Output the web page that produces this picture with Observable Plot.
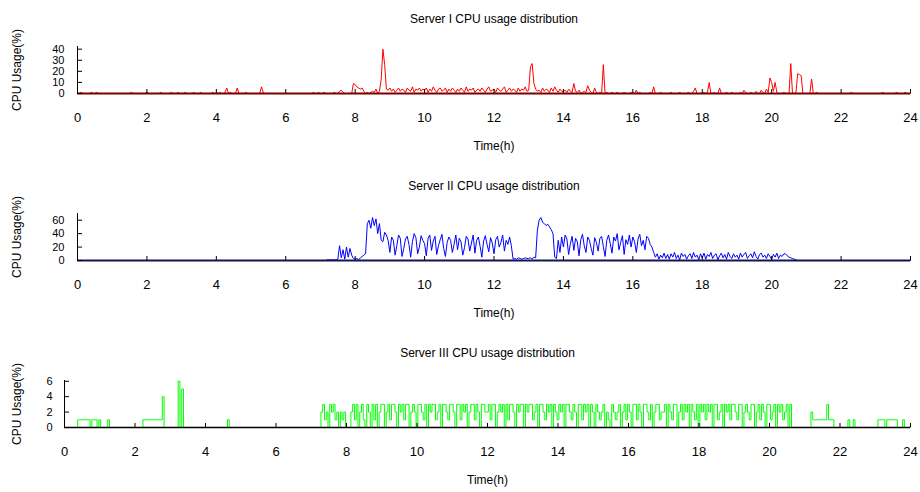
<!DOCTYPE html>
<html><head><meta charset="utf-8">
<script src="https://cdn.jsdelivr.net/npm/d3@7"></script>
<script src="https://cdn.jsdelivr.net/npm/@observablehq/plot@0.6"></script>
<style>
body{margin:0;background:#fff;overflow:hidden}
#c{position:relative;width:920px;height:492px;font-family:"Liberation Sans",Arial,sans-serif}
#c svg{position:absolute;left:0}
</style></head><body><div id="c"></div>
<script>
// sampling interval of the series (hours); each row below = one hour (20 samples)
const step = 0.05;
const xTicks = [0,2,4,6,8,10,12,14,16,18,20,22,24];
const titles = ["Server I CPU usage distribution","Server II CPU usage distribution","Server III CPU usage distribution"];
const yLabel = "CPU Usage(%)";
const xLabel = "Time(h)";
const yTicks1 = [0,10,20,30,40];
const yTicks2 = [0,20,40,60];
const yTicks3 = [0,2,4,6];

const server1 = [
0,0,1,0,0,0,0,0,1,0,0,1,0,0,0,0,0,0,0,0,
0,0,0,0,0,0,0,0,0,0,0,1,0,0,0,0,0,0,0,0,
1,0,0,0,0,0,0,0,1,0,0,0,0,0,1,0,0,0,1,0,
0,0,1,0,0,0,0,1,0,0,0,1,0,0,0,0,0,0,1,0,
0,0,1,0,0,1,5,0,1,0,0,0,5,0,0,0,0,1,0,0,
0,0,0,0,0,0,6,1,0,0,0,0,0,0,0,0,0,0,0,0,
0,0,0,0,0,0,0,0,0,0,0,0,0,0,0,0,1,0,0,1,
0,0,1,0,0,0,0,0,1,0,0,2,3,1,0,0,0,0,0,9,
8,6,5,4,5,2,0,1,0,1,2,1,4,0,2,13,40,26,4,3,
5,2,4,1,3,5,2,4,3,1,5,3,2,6,1,4,3,5,2,4,
3,5,1,4,2,6,3,1,4,5,2,3,5,1,4,2,5,3,1,4,
2,5,3,1,6,2,4,3,5,1,3,4,2,5,3,1,4,6,2,3,
4,1,5,3,2,4,6,1,3,5,2,4,3,1,5,2,4,3,6,2,
3,24,27,9,4,2,3,1,5,2,4,3,1,5,2,6,3,1,4,2,
2,3,1,4,2,1,9,2,1,3,0,1,2,1,7,3,1,0,5,1,
0,1,0,26,0,1,0,0,1,0,0,1,0,0,0,1,0,0,0,1,
0,0,3,0,1,0,0,0,0,0,1,0,6,0,0,0,1,0,0,0,
0,0,1,0,0,0,0,1,0,0,0,0,1,0,0,2,5,0,0,0,
0,1,0,1,10,0,0,1,0,0,5,0,0,0,1,0,0,1,0,0,
0,0,1,0,3,1,0,0,1,0,0,2,0,0,3,1,0,4,1,14,
10,2,10,1,0,0,0,1,0,0,0,27,0,0,1,18,17,16,0,0,
0,0,0,13,0,0,1,0,0,0,0,0,0,0,0,0,0,0,0,0,
0,0,0,0,0,0,1,0,0,0,0,0,0,0,0,0,0,0,0,0,
0,0,0,0,1,0,0,0,0,0,0,0,1,0,0,0,0,1,0,0,
0];

const server2 = [
0,0,0,0,0,0,0,0,0,0,0,0,0,0,0,0,0,0,0,0,
0,0,0,0,0,0,0,0,0,0,0,0,0,0,0,0,0,0,0,0,
0,0,0,0,0,0,0,0,0,0,0,0,0,0,0,0,0,0,0,0,
0,0,0,0,0,0,0,0,0,0,0,0,0,0,0,0,0,0,0,0,
0,0,0,0,0,0,0,0,0,0,0,0,0,0,0,0,0,0,0,0,
0,0,0,0,0,0,0,0,0,0,0,0,0,0,0,0,0,0,0,0,
0,0,0,0,0,0,0,0,0,0,0,0,0,0,0,0,0,0,0,0,
0,0,0,0,1,1,1,1,1,1,2,22,4,16,2,20,5,18,8,3,
2,3,1,4,6,8,10,55,60,48,64,52,62,40,55,30,28,42,38,30,
12,35,30,8,22,38,33,6,18,32,36,24,5,28,40,34,10,20,37,30,
25,7,33,38,15,29,36,9,22,31,39,18,6,27,35,30,12,24,38,16,
33,28,8,19,36,32,14,26,38,11,30,35,21,5,29,37,24,13,34,26,
10,31,36,20,27,38,14,30,24,35,22,2,3,2,4,3,2,3,4,3,
3,4,2,5,4,45,60,64,57,55,52,54,50,46,40,5,3,30,12,35,
20,38,32,9,25,36,15,33,28,7,31,39,22,12,35,30,18,8,34,27,
14,33,36,21,6,30,38,25,11,35,29,40,16,27,37,9,31,24,38,20,
35,28,12,32,39,22,30,16,36,33,24,20,12,5,10,2,8,4,11,3,
9,2,10,5,12,3,8,1,11,6,9,2,7,10,3,12,5,8,1,10,
4,11,2,9,6,12,3,8,10,1,7,11,4,9,2,12,6,3,10,5,
8,2,11,5,9,12,3,7,10,4,13,6,2,9,11,5,8,3,10,6,
2,9,5,11,3,8,6,10,10,7,5,4,3,2,1,0,0,0,0,0,
0,0,0,0,0,0,0,0,0,0,0,0,0,0,0,0,0,0,0,0,
0,0,0,0,0,0,0,0,0,0,0,0,0,0,0,0,0,0,0,0,
0,0,0,0,0,0,0,0,0,0,0,0,0,0,0,0,0,0,0,0,
0];

const server3 = [
0,0,0,0,0,0,0,0,1,1,1,1,1,1,1,0,1,1,1,0,
1,0,0,0,0,1,0,0,0,0,0,0,0,0,0,0,0,0,0,0,
0,0,0,0,0,1,1,1,1,1,1,1,1,1,1,1,4,0,0,0,
0,0,0,0,0,6,0,5,0,0,0,0,0,0,0,0,0,0,0,0,
0,0,0,0,0,0,0,0,0,0,0,0,0,1,0,0,0,0,0,0,
0,0,0,0,0,0,0,0,0,0,0,0,0,0,0,0,0,0,0,0,
0,0,0,0,0,0,0,0,0,0,0,0,0,0,0,0,0,0,0,0,
0,0,0,0,0,0,2,3,1,2,0,3,2,3,1,2,0,2,1,2,
0,0,0,2,3,1,3,0,2,3,1,0,3,2,0,3,1,3,0,2,
3,3,0,2,3,1,3,3,2,0,3,2,3,1,3,3,0,2,3,2,
0,3,3,2,1,3,0,3,2,3,3,1,2,3,0,3,3,2,1,3,
3,2,0,3,3,1,3,2,3,0,2,3,3,1,3,2,0,3,3,2,
2,3,1,3,3,0,2,3,2,3,0,3,1,3,3,2,0,3,2,3,
3,0,3,2,3,3,1,2,3,0,3,3,2,1,3,2,3,0,3,2,
1,3,2,3,0,3,3,2,1,3,2,0,3,3,1,3,2,3,0,3,
2,0,3,2,1,2,3,0,2,1,0,3,2,1,2,3,0,2,3,1,
3,2,0,3,3,1,3,2,0,3,3,2,1,3,0,2,3,3,1,2,
2,3,0,3,2,1,3,3,0,2,3,1,3,2,3,0,3,2,1,3,
0,3,2,3,1,3,2,3,0,3,3,1,2,3,0,3,2,3,1,3,
3,2,1,3,3,0,2,3,2,1,3,3,0,2,3,1,3,2,0,3,
3,1,2,3,0,3,2,3,1,2,3,0,3,0,0,0,0,0,0,0,
0,0,0,0,2,1,1,1,1,1,1,1,1,3,1,1,1,0,0,0,
0,0,0,0,0,1,0,0,1,0,0,0,0,0,0,0,0,0,0,0,
0,0,1,1,1,1,0,1,1,1,1,1,1,0,0,0,1,0,0,0,
0];

const font = '"Liberation Sans", Arial, sans-serif';

function panel({values, color, curve, base, baseWidth, title, yDomain, yTicks, marginLeft, top, tickGap}) {
  const data = values.map((v, i) => ({t: i * step, v}));
  const svg = Plot.plot({
    width: 920, height: 158,
    marginLeft, marginRight: 10, marginTop: 46, marginBottom: 65,
    style: {fontFamily: font, fontSize: "11px", color: "#000", background: "transparent", overflow: "visible"},
    x: {domain: [0, 24]},
    y: {domain: yDomain},
    marks: [
      Plot.line(data, {x: "t", y: "v", stroke: color, strokeWidth: 1, curve}),
      Plot.ruleY([0], {stroke: base, strokeWidth: baseWidth}),
      Plot.ruleX([0], {stroke: "#000", strokeWidth: 1}),
      Plot.axisX({ticks: xTicks, tickSize: -4, tickPadding: 23, fontSize: 13, label: null}),
      Plot.axisY({ticks: yTicks, tickSize: -5, tickPadding: 5 + tickGap, fontSize: 11, tickFormat: d3.format("d"), label: null}),
      Plot.text([title], {frameAnchor: "top", dy: -27.5, lineAnchor: "middle", fontSize: 12, fill: "#000"}),
      Plot.text([yLabel], {frameAnchor: "left", dx: -(marginLeft - 17), rotate: -90, textAnchor: "middle", lineAnchor: "middle", fontSize: 12, fill: "#000"}),
      Plot.text([xLabel], {frameAnchor: "bottom", dy: 52.5, lineAnchor: "middle", fontSize: 12, fill: "#000"})
    ]
  });
  svg.style.top = top + "px";
  document.getElementById("c").appendChild(svg);
}

panel({values: server1, color: "#ff0000", curve: "linear", base: "#7a0000", baseWidth: 2, title: titles[0], yDomain: [0, 42.4], yTicks: yTicks1, marginLeft: 77, top: 0, tickGap: 13});
panel({values: server2, color: "#0000ff", curve: "linear", base: "#141450", baseWidth: 2, title: titles[1], yDomain: [0, 70], yTicks: yTicks2, marginLeft: 77, top: 167, tickGap: 13});
panel({values: server3, color: "#00ff00", curve: "step", base: "#000000", baseWidth: 1.5, title: titles[2], yDomain: [0, 6.1], yTicks: yTicks3, marginLeft: 64, top: 334, tickGap: 12});
</script></body></html>
